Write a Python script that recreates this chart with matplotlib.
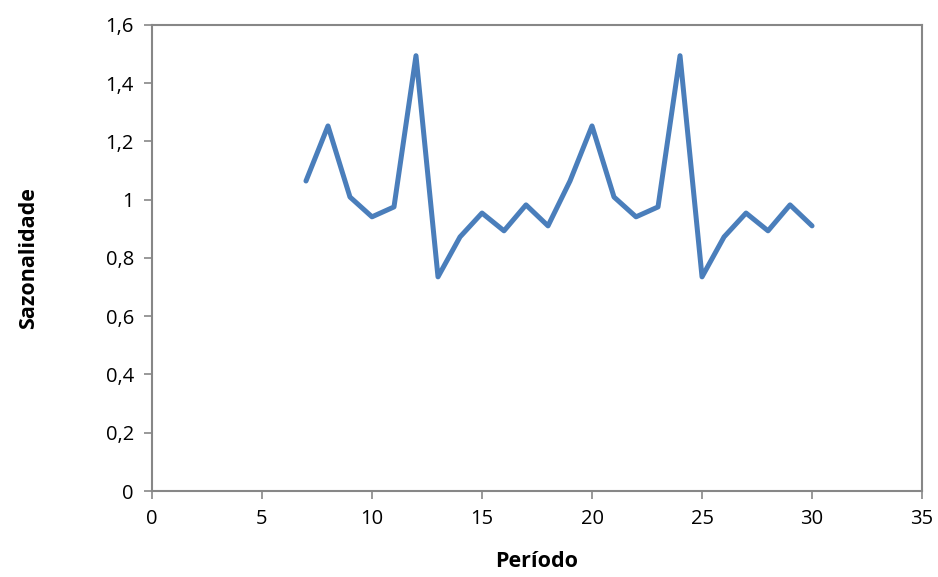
import numpy as np
import matplotlib.pyplot as plt
from matplotlib.ticker import FuncFormatter

# dados
periodos = list(range(7, 31))
sazonalidade = [1.064, 1.253, 1.009, 0.941, 0.975, 1.494, 0.735, 0.872, 0.954, 0.893,
                0.982, 0.910, 1.064, 1.253, 1.009, 0.941, 0.975, 1.494, 0.735, 0.872,
                0.954, 0.893, 0.982, 0.910]

plt.rcParams['font.family'] = ['Open Sans', 'DejaVu Sans']

fig = plt.figure(figsize=(9.38, 5.77), dpi=100)
ax = fig.add_axes([0.162, 0.149, 0.821, 0.808])

ax.plot(periodos, sazonalidade, color='#4A7EBB', lw=3.6,
        solid_joinstyle='round', solid_capstyle='round')

ax.set_xlim(0, 35)
ax.set_ylim(0, 1.6)
ax.set_xticks(np.arange(0, 36, 5))
ax.set_yticks(np.arange(0, 1.61, 0.2))
ax.yaxis.set_major_formatter(FuncFormatter(lambda v, p: ('%g' % round(v, 1)).replace('.', ',')))

for s in ax.spines.values():
    s.set_color('#878787')
    s.set_linewidth(1.5)
ax.tick_params(color='#878787', width=1.2, length=6, labelsize=14.5, pad=7)

ax.set_xlabel('Período', fontsize=15.5, fontweight='bold', labelpad=16)
ax.set_ylabel('Sazonalidade', fontsize=15.5, fontweight='bold', labelpad=48)

plt.savefig('out.png', dpi=100)
